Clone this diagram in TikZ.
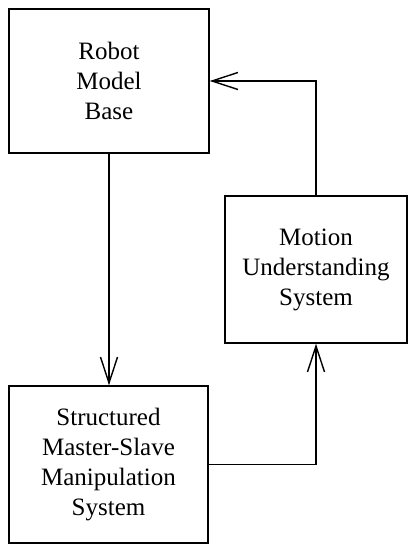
\documentclass[tikz,border=0pt]{standalone}
\usepackage{fontspec}
\setmainfont{Liberation Serif}
\usepackage{tikz}
\usetikzlibrary{arrows.meta,positioning}

\begin{document}
\begin{tikzpicture}[x=1pt,y=-1pt,
    block/.style={draw, line width=1.4pt, align=center, inner sep=0pt,
        font=\fontsize{25}{30}\selectfont},
    flow/.style={line width=1.4pt, -{Straight Barb[length=26pt,width=17pt,line width=1.4pt]}}]
\useasboundingbox (0,0) rectangle (409,545);

% Draw the three blocks
\node[block, minimum width=200pt, minimum height=144pt] (robot) at (109,81) {Robot\\Model\\Base};
\node[block, minimum width=182pt, minimum height=147pt] (motion) at (316,269.5) {Motion\\Understanding\\System};
\node[block, minimum width=199pt, minimum height=157pt] (manip) at (108.5,464.5) {Structured\\Master-Slave\\Manipulation\\System};

% Draw the loop between them
\draw[flow] (robot.south) -- (robot.south |- manip.north);
\draw[flow] (manip.east) -| (motion.south);
\draw[flow] (motion.north) |- (robot.east);

\end{tikzpicture}
\end{document}
